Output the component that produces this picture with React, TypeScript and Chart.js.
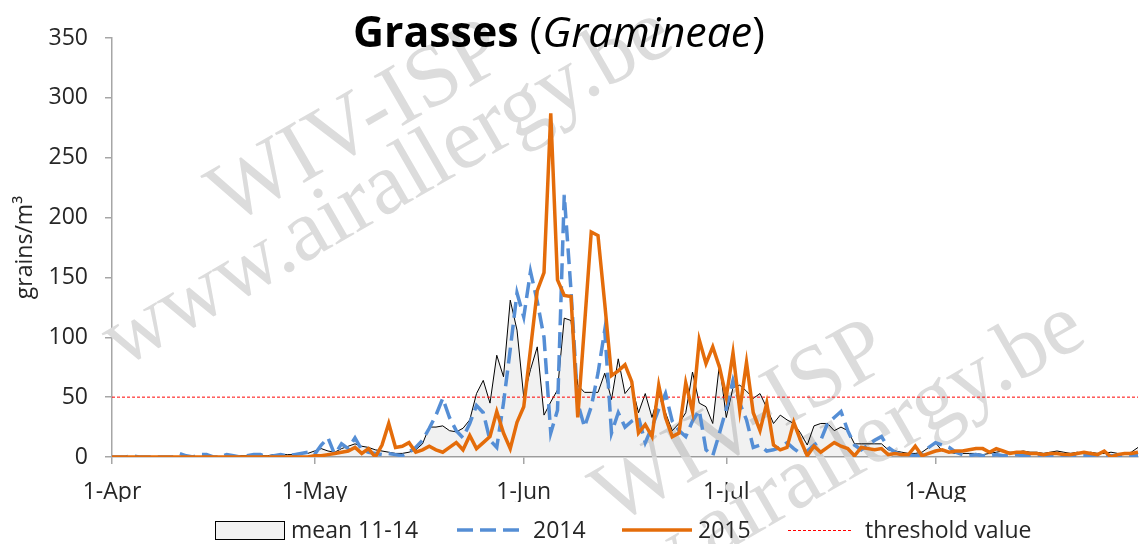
import { useEffect, useRef } from 'react';
import { Chart, registerables } from 'chart.js';

Chart.register(...registerables);

// ---- categories: every day from 1-Apr to 31-Aug ----
const MONTHS = ['Apr', 'May', 'Jun', 'Jul', 'Aug'];
const MONTH_DAYS = [30, 31, 30, 31, 31];
const DAY_LABELS: string[] = [];
MONTHS.forEach((m, i) => {
  for (let d = 1; d <= MONTH_DAYS[i]; d++) DAY_LABELS.push(`${d}-${m}`);
});

// ---- series (grains/m³) ----
const MEAN_11_14 = [
  0, 0, 0, 0, 0, 0, 0, 0, 0, 0,
  0, 0, 0, 0, 0, 0, 0, 0, 0, 1,
  1, 1, 1, 1, 2, 2, 2, 2, 3, 3,
  5, 7, 5, 4, 7, 9, 11, 9, 8, 6,
  5, 4, 3, 3, 4, 6, 11, 25, 25, 26,
  22, 21, 24, 31, 53, 64, 45, 85, 67, 131,
  106, 50, 73, 92, 35, 46, 56, 116, 114, 60,
  54, 54, 54, 70, 48, 82, 53, 60, 37, 53,
  33, 53, 37, 22, 28, 37, 71, 45, 42, 28,
  78, 33, 58, 60, 55, 49, 53, 41, 28, 35,
  31, 28, 20, 10, 26, 28, 28, 22, 25, 22,
  11, 11, 11, 11, 11, 6, 5, 4, 3, 3,
  4, 8, 12, 5, 4, 3, 3, 3, 3, 2,
  3, 4, 5, 4, 4, 5, 4, 4, 3, 4,
  5, 4, 3, 4, 3, 4, 3, 3, 4, 3,
  3, 4, 8,
];

const Y2014 = [
  0, 0, 0, 1, 0, 0, 0, 0, 0, 0,
  3, 1, 0, 2, 2, 0, 0, 2, 1, 0,
  1, 2, 2, 0, 1, 2, 1, 2, 3, 4,
  2, 10, 16, 2, 11, 7, 16, 6, 4, 3,
  2, 3, 2, 1, 4, 8, 14, 24, 35, 49,
  33, 22, 16, 28, 43, 37, 14, 8, 45, 90,
  137, 117, 155, 130, 100, 20, 39, 219, 139, 45,
  25, 42, 70, 106, 20, 37, 25, 30, 33, 12,
  25, 40, 53, 30, 22, 17, 30, 39, 6, 1,
  20, 40, 64, 45, 31, 8, 10, 5, 6, 8,
  12, 7, 3, 5, 10, 14, 28, 33, 38, 22,
  10, 6, 10, 14, 17, 8, 4, 2, 2, 1,
  1, 8, 12, 10, 8, 4, 2, 1, 2, 1,
  1, 2, 1, 1, 2, 1, 1, 1, 2, 1,
  1, 1, 2, 1, 1, 1, 2, 1, 1, 1,
  1, 1, 1,
];

const Y2015 = [
  0, 0, 0, 0, 0, 0, 0, 0, 0, 0,
  0, 0, 0, 0, 0, 0, 0, 0, 0, 0,
  0, 0, 0, 0, 0, 0, 0, 0, 0, 0,
  1, 1, 2, 3, 4, 5, 8, 3, 7, 0,
  10, 28, 8, 9, 12, 4, 6, 9, 6, 4,
  8, 12, 6, 18, 7, 12, 17, 38, 20, 7,
  29, 42, 90, 139, 154, 287, 148, 135, 134, 33,
  110, 188, 185, 128, 68, 72, 77, 63, 20, 27,
  17, 60, 33, 17, 20, 62, 38, 98, 78, 92,
  75, 50, 87, 39, 79, 37, 22, 45, 10, 6,
  8, 29, 14, 1, 9, 4, 8, 12, 9, 7,
  1, 8, 7, 6, 7, 2, 3, 2, 2, 9,
  1, 3, 5, 6, 4, 5, 5, 6, 7, 7,
  4, 7, 5, 3, 4, 4, 3, 3, 2, 3,
  3, 2, 2, 3, 4, 3, 2, 5, 0, 2,
  3, 3, 4,
];

const THRESHOLD = 50;
const Y_MAX = 350;
const Y_STEP = 50;

const FONT = '"Open Sans", "DejaVu Sans", sans-serif';
const TEXT_COLOR = '#262626';
const AXIS_COLOR = '#a6a6a6';
const BLUE = '#558ED5';
const ORANGE = '#E46C0A';
const RED = '#FF0000';

const WATERMARKS = [
  { text: 'WIV-ISP', x: 358, y: 125 },
  { text: 'www.airallergy.be', x: 388, y: 188 },
  { text: 'WIV-ISP', x: 742, y: 425 },
  { text: 'www.airallergy.be', x: 800, y: 482 },
];

const watermarkPlugin = {
  id: 'watermark',
  beforeDatasetsDraw(chart: any) {
    const ctx = chart.ctx as CanvasRenderingContext2D;
    ctx.save();
    ctx.font = '88px "Liberation Serif", "DejaVu Serif", serif';
    ctx.fillStyle = '#dcdcdc';
    ctx.textAlign = 'center';
    ctx.textBaseline = 'middle';
    WATERMARKS.forEach((w) => {
      ctx.save();
      ctx.translate(w.x, w.y);
      ctx.rotate((-30 * Math.PI) / 180);
      ctx.fillText(w.text, 0, 0);
      ctx.restore();
    });
    ctx.restore();
  },
};

const titlePlugin = {
  id: 'mixedTitle',
  afterDraw(chart: any) {
    const ctx = chart.ctx as CanvasRenderingContext2D;
    const parts = [
      { t: 'Grasses', s: 'bold' },
      { t: ' (', s: 'normal' },
      { t: 'Gramineae', s: 'italic' },
      { t: ')', s: 'normal' },
    ];
    const base = 40;
    const fontFor = (s: string, size: number) =>
      s === 'bold' ? `bold ${size}px ${FONT}` : s === 'italic' ? `italic ${size}px ${FONT}` : `${size}px ${FONT}`;
    ctx.save();
    let total = 0;
    parts.forEach((p) => {
      ctx.font = fontFor(p.s, base);
      total += ctx.measureText(p.t).width;
    });
    const size = (base * 412) / total;
    let x = 353;
    ctx.fillStyle = '#000';
    ctx.textBaseline = 'alphabetic';
    ctx.textAlign = 'left';
    parts.forEach((p) => {
      ctx.font = fontFor(p.s, size);
      ctx.fillText(p.t, x, 47);
      x += ctx.measureText(p.t).width;
    });
    ctx.restore();
  },
};

const legendPlugin = {
  id: 'customLegend',
  afterDraw(chart: any) {
    const ctx = chart.ctx as CanvasRenderingContext2D;
    ctx.save();
    const cy = 530;
    // mean box
    ctx.fillStyle = '#f2f2f2';
    ctx.fillRect(215, 521, 69, 18);
    ctx.strokeStyle = '#000';
    ctx.lineWidth = 1;
    ctx.strokeRect(215.5, 521.5, 69, 18);
    // 2014
    ctx.strokeStyle = BLUE;
    ctx.lineWidth = 3.5;
    ctx.setLineDash([16, 7]);
    ctx.beginPath();
    ctx.moveTo(457, cy);
    ctx.lineTo(526, cy);
    ctx.stroke();
    // 2015
    ctx.strokeStyle = ORANGE;
    ctx.setLineDash([]);
    ctx.beginPath();
    ctx.moveTo(622, cy);
    ctx.lineTo(692, cy);
    ctx.stroke();
    // threshold
    ctx.strokeStyle = RED;
    ctx.lineWidth = 1;
    ctx.setLineDash([3, 2]);
    ctx.beginPath();
    ctx.moveTo(788, cy + 0.5);
    ctx.lineTo(853, cy + 0.5);
    ctx.stroke();
    ctx.setLineDash([]);
    ctx.fillStyle = TEXT_COLOR;
    ctx.font = `23px ${FONT}`;
    ctx.textBaseline = 'alphabetic';
    ctx.textAlign = 'left';
    ctx.fillText('mean 11-14', 291, 538);
    ctx.fillText('2014', 533, 538);
    ctx.fillText('2015', 698, 538);
    ctx.fillText('threshold value', 865, 538);
    ctx.restore();
  },
};

export default function App() {
  const ref = useRef<HTMLCanvasElement>(null);
  useEffect(() => {
    document.body.style.margin = '0';
    const canvas = ref.current;
    if (!canvas) return;
    const chart = new Chart(canvas, {
      type: 'line',
      data: {
        labels: DAY_LABELS,
        datasets: [
          {
            label: 'mean 11-14',
            data: MEAN_11_14,
            borderColor: '#000000',
            borderWidth: 1,
            backgroundColor: 'rgba(0,0,0,0.055)',
            fill: 'origin',
            pointRadius: 0,
            order: 4,
          },
          {
            label: '2014',
            data: Y2014,
            borderColor: BLUE,
            borderWidth: 3.5,
            borderDash: [16, 7],
            fill: false,
            pointRadius: 0,
            order: 2,
          },
          {
            label: '2015',
            data: Y2015,
            borderColor: ORANGE,
            borderWidth: 3.5,
            fill: false,
            pointRadius: 0,
            order: 1,
          },
          {
            label: 'threshold value',
            data: DAY_LABELS.map(() => THRESHOLD),
            borderColor: RED,
            borderWidth: 1,
            borderDash: [3, 2],
            fill: false,
            pointRadius: 0,
            order: 3,
          },
        ],
      },
      options: {
        responsive: false,
        animation: false,
        layout: { padding: { top: 38, right: 3, bottom: 42, left: 0 } },
        plugins: {
          legend: { display: false },
          title: { display: false },
          tooltip: { enabled: false },
        },
        scales: {
          x: {
            type: 'category',
            grid: { display: true, drawOnChartArea: false, drawTicks: true, tickLength: 7, color: AXIS_COLOR, lineWidth: 1.5 },
            border: { display: true, color: AXIS_COLOR, width: 1.5 },
            ticks: {
              autoSkip: false,
              maxRotation: 0,
              padding: 15,
              font: { family: FONT, size: 23 },
              color: TEXT_COLOR,
            },
            afterBuildTicks: (scale: any) => {
              scale.ticks = scale.ticks.filter((t: any) => (DAY_LABELS[t.value] || '').startsWith('1-'));
            },
            afterFit: (scale: any) => {
              scale.height = 45;
            },
          },
          y: {
            min: 0,
            max: Y_MAX,
            ticks: {
              stepSize: Y_STEP,
              padding: 17,
              font: { family: FONT, size: 23 },
              color: TEXT_COLOR,
            },
            grid: { display: true, drawOnChartArea: false, drawTicks: true, tickLength: 7, color: AXIS_COLOR, lineWidth: 1.5 },
            border: { display: true, color: AXIS_COLOR, width: 1.5 },
            title: {
              display: true,
              text: 'grains/m³',
              font: { family: FONT, size: 23 },
              color: TEXT_COLOR,
              padding: { top: 12, bottom: 0 },
            },
            afterFit: (scale: any) => {
              scale.width = 112;
            },
          },
        },
      },
      plugins: [watermarkPlugin, titlePlugin, legendPlugin],
    });
    return () => chart.destroy();
  }, []);
  return <canvas ref={ref} width={1141} height={544} style={{ display: 'block' }} />;
}
